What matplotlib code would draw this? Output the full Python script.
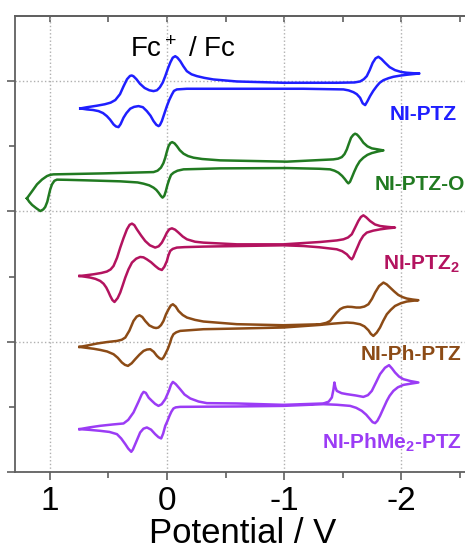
import numpy as np
import matplotlib
matplotlib.use('Agg')
import matplotlib.pyplot as plt

plt.rcParams['font.family'] = ['Liberation Sans', 'DejaVu Sans']
plt.rcParams['mathtext.default'] = 'regular'
plt.rcParams['axes.unicode_minus'] = False

#%%
# CV traces (potential in V, current stacked with offsets, arb. units)

ptz_v = np.array([0.739, 0.68, 0.60, 0.53, 0.48, 0.44, 0.40, 0.37, 0.34, 0.315, 0.300, 0.285, 0.26, 0.23, 0.19, 0.15,
                  0.114, 0.085, 0.060, 0.035, 0.014, -0.010, -0.030, -0.050, -0.071, -0.090, -0.114, -0.14, -0.170,
                  -0.21, -0.256, -0.32, -0.397, -0.597, -0.994, -1.449, -1.60, -1.648, -1.68, -1.705, -1.73, -1.755,
                  -1.78, -1.804, -1.83, -1.861, -1.90, -1.946, -2.00, -2.046, -2.10, -2.154,
                  -2.10, -2.046, -1.99, -1.932, -1.89, -1.847, -1.815, -1.790, -1.76, -1.733, -1.71, -1.691, -1.670,
                  -1.648, -1.62, -1.591, -1.55, -1.506, -1.165, -0.597, -0.170, -0.085, -0.060, -0.043, -0.02, 0.0,
                  0.022, 0.043, 0.060, 0.071, 0.090, 0.114, 0.140, 0.171, 0.205, 0.242, 0.28, 0.313, 0.345, 0.370,
                  0.395, 0.413, 0.435, 0.455, 0.485, 0.512, 0.545, 0.583, 0.63, 0.682, 0.739])
ptz_i = np.array([5.581, 5.600, 5.622, 5.645, 5.670, 5.710, 5.800, 5.920, 6.030, 6.080, 6.087, 6.075, 6.030, 5.960,
                  5.895, 5.860, 5.847, 5.860, 5.905, 5.980, 6.077, 6.200, 6.290, 6.360, 6.383, 6.360, 6.307, 6.230,
                  6.153, 6.105, 6.077, 6.050, 6.026, 5.995, 5.975, 5.975, 5.980, 5.995, 6.030, 6.077, 6.170, 6.280,
                  6.350, 6.374, 6.340, 6.282, 6.215, 6.169, 6.140, 6.129, 6.122, 6.118,
                  6.108, 6.098, 6.085, 6.067, 6.045, 6.015, 5.975, 5.923, 5.850, 5.770, 5.690, 5.632, 5.660,
                  5.745, 5.800, 5.831, 5.858, 5.873, 5.883, 5.883, 5.883, 5.873, 5.850, 5.796, 5.710, 5.617,
                  5.500, 5.387, 5.325, 5.310, 5.330, 5.387, 5.470, 5.540, 5.600, 5.617, 5.605, 5.577, 5.510, 5.439,
                  5.340, 5.294, 5.305, 5.336, 5.410, 5.463, 5.510, 5.540, 5.557, 5.566, 5.581])

ptzo_v = np.array([1.194, 1.175, 1.150, 1.115, 1.080, 1.055, 1.038, 1.020, 1.009, 0.995, 0.980, 0.960, 0.938, 0.85,
                   0.682, 0.398, 0.25, 0.199, 0.150, 0.114, 0.090, 0.071, 0.050, 0.037, 0.022, 0.009, -0.005, -0.020,
                   -0.035, -0.057, -0.090, -0.142, -0.454, -1.023, -1.300, -1.392, -1.430, -1.463, -1.495, -1.520,
                   -1.535, -1.548, -1.562, -1.577, -1.598, -1.620, -1.645, -1.676, -1.71, -1.748, -1.80, -1.847,
                   -1.80, -1.748, -1.71, -1.676, -1.655, -1.634, -1.620, -1.605, -1.590, -1.571, -1.552, -1.535,
                   -1.515, -1.492, -1.460, -1.420, -1.023, -0.454, -0.300, -0.227, -0.180, -0.142, -0.110, -0.085,
                   -0.065, -0.045, -0.030, -0.014, 0.000, 0.014, 0.030, 0.051, 0.080, 0.114, 0.540, 0.967, 0.995,
                   1.023, 1.065, 1.108, 1.150, 1.194])
ptzo_i = np.array([4.201, 4.150, 4.100, 4.050, 4.006, 4.030, 4.068, 4.150, 4.236, 4.340, 4.416, 4.470, 4.488, 4.485,
                   4.477, 4.462, 4.445, 4.426, 4.400, 4.365, 4.330, 4.288, 4.235, 4.212, 4.240, 4.313, 4.410, 4.492,
                   4.560, 4.595, 4.625, 4.646, 4.661, 4.666, 4.655, 4.646, 4.625, 4.595, 4.545, 4.492,
                   4.455, 4.431, 4.455, 4.518, 4.610, 4.696, 4.770, 4.825, 4.868, 4.896, 4.920, 4.937,
                   4.952, 4.968, 5.000, 5.055, 5.110, 5.157, 5.182, 5.193, 5.175, 5.132, 5.040, 4.953,
                   4.880, 4.834, 4.810, 4.799, 4.764, 4.784, 4.805, 4.825, 4.850, 4.886, 4.940, 5.003,
                   5.045, 5.064, 5.050, 5.003, 4.920, 4.825, 4.740, 4.672, 4.625, 4.604, 4.584, 4.569, 4.562,
                   4.543, 4.490, 4.416, 4.310, 4.201])

ptz2_v = np.array([0.745, 0.69, 0.626, 0.56, 0.512, 0.480, 0.455, 0.425, 0.398, 0.370, 0.341, 0.318, 0.298, 0.278,
                   0.256, 0.220, 0.185, 0.145, 0.100, 0.070, 0.043, 0.020, 0.0, -0.020, -0.043, -0.070, -0.099,
                   -0.135, -0.171, -0.24, -0.312, -0.597, -0.994, -1.307, -1.450, -1.506, -1.545, -1.577, -1.605,
                   -1.633, -1.655, -1.676, -1.700, -1.733, -1.775, -1.819, -1.88, -1.946,
                   -1.88, -1.819, -1.760, -1.705, -1.675, -1.648, -1.625, -1.605, -1.590, -1.577, -1.560, -1.535,
                   -1.495, -1.449, -1.300, -1.165, -0.994, -0.312, -0.150, -0.085, -0.050, -0.028, -0.012, 0.0,
                   0.022, 0.043, 0.070, 0.100, 0.135, 0.171, 0.200, 0.228, 0.262, 0.298, 0.328, 0.355, 0.378,
                   0.398, 0.420, 0.447, 0.465, 0.483, 0.500, 0.517, 0.540, 0.569, 0.610, 0.654, 0.700, 0.745])
ptz2_i = np.array([3.009, 3.020, 3.035, 3.055, 3.077, 3.110, 3.163, 3.290, 3.445, 3.590, 3.725, 3.795, 3.813, 3.790,
                   3.725, 3.630, 3.546, 3.480, 3.445, 3.465, 3.521, 3.600, 3.675, 3.725, 3.741, 3.720, 3.675,
                   3.615, 3.572, 3.535, 3.521, 3.495, 3.495, 3.531, 3.555, 3.572, 3.600, 3.649, 3.750,
                   3.853, 3.915, 3.940, 3.910, 3.853, 3.800, 3.776, 3.763, 3.752,
                   3.740, 3.725, 3.705, 3.675, 3.625, 3.546, 3.450, 3.368, 3.300, 3.265, 3.290, 3.342,
                   3.390, 3.419, 3.450, 3.469, 3.480, 3.460, 3.452, 3.445, 3.425, 3.393, 3.320, 3.239,
                   3.150, 3.101, 3.120, 3.163, 3.220, 3.265, 3.295, 3.301, 3.275, 3.215, 3.110, 2.985, 2.860,
                   2.755, 2.670, 2.610, 2.640, 2.702, 2.770, 2.831, 2.890, 2.933, 2.965, 2.985, 2.998, 3.009])

phptz_v = np.array([0.745, 0.670, 0.597, 0.510, 0.426, 0.385, 0.355, 0.320, 0.285, 0.258, 0.234, 0.210, 0.185, 0.150,
                    0.114, 0.092, 0.072, 0.050, 0.029, 0.008, -0.014, -0.033, -0.051, -0.075, -0.099, -0.135, -0.171,
                    -0.240, -0.312, -0.597, -0.994, -1.307, -1.360, -1.392, -1.420, -1.449, -1.478, -1.506, -1.540,
                    -1.577, -1.615, -1.648, -1.685, -1.719, -1.750, -1.776, -1.810, -1.847, -1.875, -1.904, -1.940,
                    -1.974, -2.010, -2.046, -2.095, -2.145,
                    -2.095, -2.046, -1.995, -1.946, -1.910, -1.876, -1.845, -1.818, -1.790, -1.761, -1.740, -1.719,
                    -1.685, -1.648, -1.590, -1.535, -1.420, -1.307, -0.994, -0.597, -0.312, -0.113, -0.080, -0.056,
                    -0.040, -0.028, -0.008, 0.014, 0.030, 0.043, 0.062, 0.085, 0.112, 0.142, 0.170, 0.199, 0.235,
                    0.270, 0.300, 0.332, 0.358, 0.384, 0.420, 0.455, 0.510, 0.569, 0.625, 0.682, 0.745])
phptz_i = np.array([1.920, 1.945, 1.972, 1.995, 2.012, 2.030, 2.064, 2.170, 2.319, 2.385, 2.406, 2.380, 2.319, 2.250,
                    2.218, 2.210, 2.218, 2.255, 2.319, 2.420, 2.498, 2.555, 2.575, 2.540, 2.472, 2.410, 2.371,
                    2.335, 2.310, 2.269, 2.253, 2.268, 2.290, 2.319, 2.385, 2.448, 2.500, 2.525, 2.537,
                    2.534, 2.525, 2.525, 2.540, 2.575, 2.660, 2.755, 2.855, 2.908, 2.880, 2.831, 2.770,
                    2.718, 2.685, 2.663, 2.648, 2.637,
                    2.628, 2.617, 2.590, 2.549, 2.490, 2.422, 2.320, 2.218, 2.140, 2.089, 2.120, 2.176,
                    2.235, 2.268, 2.288, 2.294, 2.278, 2.258, 2.218, 2.202, 2.192, 2.166, 2.145, 2.115,
                    2.060, 1.988, 1.890, 1.808, 1.755, 1.732, 1.745, 1.782, 1.845, 1.885, 1.880, 1.859, 1.800,
                    1.732, 1.670, 1.629, 1.645, 1.681, 1.755, 1.808, 1.850, 1.874, 1.892, 1.905, 1.920])

phme_v = np.array([0.745, 0.660, 0.569, 0.460, 0.370, 0.330, 0.285, 0.242, 0.215, 0.199, 0.180, 0.155, 0.128, 0.100,
                   0.072, 0.045, 0.014, -0.018, -0.035, -0.051, -0.075, -0.113, -0.150, -0.199, -0.270, -0.341,
                   -0.597, -0.994, -1.335, -1.380, -1.407, -1.420, -1.429, -1.437, -1.449, -1.490, -1.535, -1.610,
                   -1.676, -1.715, -1.748, -1.785, -1.818, -1.860, -1.895, -1.920, -1.946, -1.980, -2.017, -2.080,
                   -2.145,
                   -2.080, -2.017, -1.970, -1.932, -1.900, -1.876, -1.845, -1.818, -1.795, -1.776, -1.755, -1.733,
                   -1.700, -1.662, -1.615, -1.563, -1.450, -1.335, -0.994, -0.597, -0.113, -0.075, -0.056, -0.038,
                   -0.022, -0.004, 0.014, 0.032, 0.049, 0.072, 0.100, 0.135, 0.171, 0.200, 0.228, 0.265, 0.290,
                   0.304, 0.330, 0.355, 0.390, 0.426, 0.490, 0.569, 0.660, 0.745])
phme_i = np.array([0.658, 0.685, 0.709, 0.730, 0.745, 0.800, 0.914, 1.080, 1.190, 1.230, 1.215, 1.140, 1.092, 1.045,
                   1.015, 1.040, 1.118, 1.250, 1.340, 1.383, 1.350, 1.271, 1.190, 1.129, 1.082, 1.057,
                   1.052, 1.031, 1.052, 1.080, 1.144, 1.260, 1.374, 1.300, 1.245, 1.210, 1.195, 1.175,
                   1.153, 1.180, 1.245, 1.380, 1.502, 1.600, 1.640, 1.590, 1.528, 1.465, 1.425, 1.395,
                   1.374,
                   1.356, 1.337, 1.300, 1.245, 1.170, 1.092, 0.970, 0.862, 0.785, 0.750, 0.765, 0.811,
                   0.880, 0.939, 0.985, 1.015, 1.032, 1.041, 1.015, 1.006, 1.000, 0.992, 0.975, 0.925,
                   0.862, 0.780, 0.709, 0.590, 0.515, 0.535, 0.581, 0.650, 0.684, 0.665, 0.607, 0.450, 0.345,
                   0.310, 0.360, 0.428, 0.515, 0.581, 0.615, 0.632, 0.647, 0.658])

names = ['NI-PTZ', 'NI-PTZ-O', r'NI-PTZ$_2$', 'NI-Ph-PTZ', r'NI-PhMe$_2$-PTZ']
colors = ['#1f1fff', '#217a21', '#b3135f', '#8c4b16', '#9b3cf5']

x_ticks = [1, 0, -1, -2]
x_ticklabels = ['1', '0', '-1', '-2']

#%%
fig = plt.figure(figsize=(4.65, 5.5), dpi=100)
ax = fig.add_axes([14.5/465, 78/550, 457.2/465, 456/550])

traces = [(ptz_v, ptz_i), (ptzo_v, ptzo_i), (ptz2_v, ptz2_i), (phptz_v, phptz_i), (phme_v, phme_i)]
for (v, i), c in zip(traces, colors):
    ax.plot(v, i, color=c, lw=1.8, solid_joinstyle='round')

# labels on the right
lab_x = [-2.475, -2.54, -2.50, -2.515, -2.515]
lab_y = [5.405, 4.331, 3.104, 1.724, 0.359]
for name, c, lx, ly in zip(names, colors, lab_x, lab_y):
    ax.text(lx, ly, name, color=c, fontsize=15, fontweight='bold', ha='right', va='baseline')

ax.text(-0.139, 6.363, r'Fc$^+$ / Fc', fontsize=20, ha='center', va='baseline')

ax.set_xlim(1.3, -2.6)
ax.set_ylim(0, 7)
ax.set_xticks(x_ticks)
ax.set_xticklabels(x_ticklabels)
ax.set_xticks([0.5, -0.5, -1.5, -2.5], minor=True)
ax.set_yticks([0, 2, 4, 6])
ax.set_yticks([1, 3, 5], minor=True)
ax.set_yticklabels([])
ax.grid(True, which='major', ls=':', color='#b0b0b0', lw=1.0)

for s in ax.spines.values():
    s.set_color('#606060')
    s.set_linewidth(1.3)

ax.tick_params(axis='both', which='major', direction='out', length=6, width=1.2, color='#606060', labelsize=24, pad=4)
ax.tick_params(axis='both', which='minor', direction='out', length=4, width=1.2, color='#606060')

top = ax.secondary_xaxis('top')
top.set_xticks(x_ticks)
top.set_xticks([0.5, -0.5, -1.5, -2.5], minor=True)
top.tick_params(which='both', direction='in', length=4, width=1.2, color='#606060', labeltop=False)
top.spines['top'].set_color('#606060')
top.spines['top'].set_linewidth(1.3)

ax.set_xlabel('Potential / V', fontsize=25, labelpad=0)

plt.savefig('out.png', dpi=100)
plt.close()
